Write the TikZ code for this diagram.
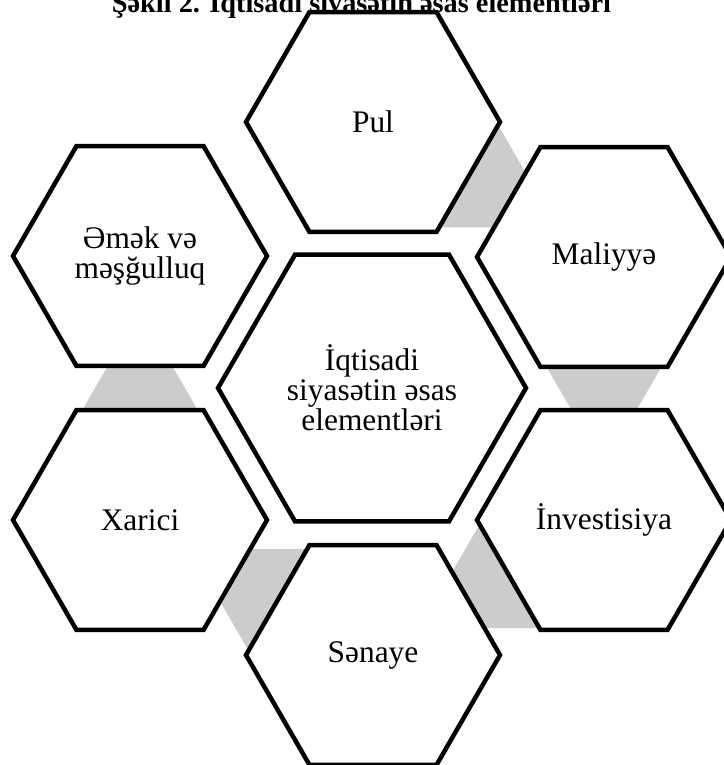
\documentclass[tikz,border=0pt]{standalone}
\usepackage{fontspec}
\setmainfont{Liberation Serif}
\usetikzlibrary{shapes.geometric}
\tikzset{
  hexa/.style={regular polygon, regular polygon sides=6, draw=black, line width=4.5pt, fill=white, inner sep=0pt, minimum size=254pt, align=center, font=\fontsize{31.4}{30}\selectfont},
  bighexa/.style={hexa, minimum size=308pt},
  linkhexa/.style={regular polygon, regular polygon sides=6, draw=none, fill=black!20, inner sep=0pt, minimum size=127pt}
}

\begin{document}
\begin{tikzpicture}[x=1pt, y=-1pt]
		%%%%% START %%%%%
		\useasboundingbox (0, 0) rectangle (723, 765);
		
		\node[font=\fontsize{28.3}{30}\selectfont\bfseries, anchor=base] (title) at (361.5, 12.5) {Şəkil 2. İqtisadi siyasətin əsas elementləri};
		
		% gray links between neighbours
		\node[linkhexa] (g1) at (462, 172.5) {};
		\node[linkhexa] (g2) at (604, 356.5) {};
		\node[linkhexa] (g3) at (515, 573) {};
		\node[linkhexa] (g4) at (285, 604) {};
		\node[linkhexa] (g5) at (140, 420) {};
		
		\node[bighexa] (center) at (372, 388) {İqtisadi\\siyasətin əsas\\elementləri};
		
		\node[hexa] (pul) at (373, 122) {Pul};
		\node[hexa] (maliyye) at (604, 257) {Maliyyə};
		\node[hexa] (investisiya) at (604, 520) {İnvestisiya};
		\node[hexa] (senaye) at (373, 655) {Sənaye};
		\node[hexa] (xarici) at (140, 520) {Xarici};
		\node[hexa] (emek) at (140, 256) {Əmək və\\məşğulluq};
		
		%%%%% END %%%%%
\end{tikzpicture}
\end{document}
